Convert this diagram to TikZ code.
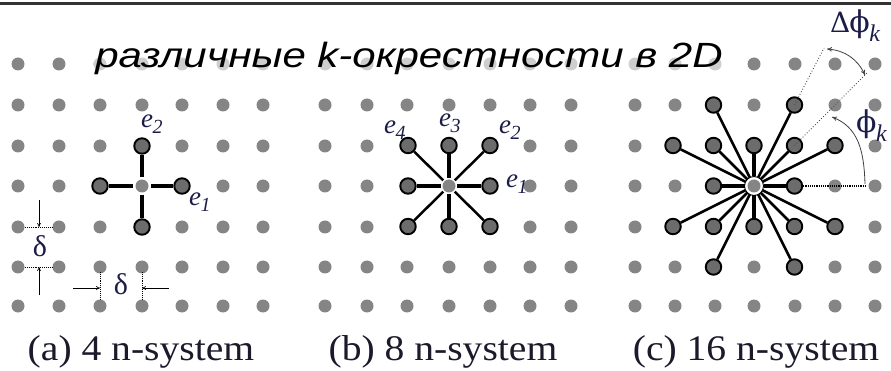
\documentclass[tikz,border=0pt]{standalone}
\usepackage{fontspec}
\setmainfont{Liberation Serif}
\newfontfamily\titlefont[FakeStretch=1.2]{Liberation Sans}
\newfontfamily\capfont[FakeStretch=1.1]{Liberation Serif}
\newfontfamily\phifont{DejaVu Serif}
\usetikzlibrary{arrows.meta}
\definecolor{dotgray}{HTML}{858585}
\definecolor{nbgray}{HTML}{6C6C6C}
\definecolor{labblue}{HTML}{1C1C48}
\definecolor{capcol}{HTML}{1A1A2A}
\newcommand{\elab}[1]{\textit{e}\kern-0.5pt\raisebox{-6pt}{\fontsize{20}{20}\selectfont\textit{#1}}}
\newcommand{\ksub}{\kern-0.5pt\raisebox{-9pt}{\fontsize{24}{24}\selectfont\textit{k}}}
\tikzset{
  griddot/.style={fill=dotgray},
  nb/.style={circle, draw=black, line width=1.9pt, fill=nbgray, minimum size=15.5pt, inner sep=0pt},
  ctra/.style={circle, fill=dotgray, minimum size=10pt, inner sep=0pt, outer sep=4pt},
  ctrb/.style={circle, fill=dotgray, minimum size=12pt, inner sep=0pt, outer sep=2pt},
  ctrc/.style={circle, fill=dotgray, minimum size=12pt, inner sep=0pt, outer sep=3.5pt},
  axisline/.style={line width=3.2pt},
  diagline/.style={line width=2.5pt},
  elabel/.style={text=labblue, font=\fontsize{27}{27}\selectfont, inner sep=0pt, anchor=base west},
  glabel/.style={text=labblue, font=\fontsize{30}{30}\selectfont, inner sep=0pt},
  captext/.style={text=capcol, font=\capfont\fontsize{36}{36}\selectfont, inner sep=0pt, anchor=base},
  dimline/.style={densely dotted, line width=0.9pt},
  dimarrow/.style={line width=0.6pt, -{To[length=4pt,width=4pt]}},
  anglearrow/.style={line width=0.8pt, color=black!75},
}
\begin{document}
\begin{tikzpicture}[x=1pt,y=-1pt]
\useasboundingbox (0,0) rectangle (891,371);
\draw[line width=2.5pt, color=black!80] (0,3.5) -- (891,3.5);
% grid dots
\foreach \x in {18,59,100,142,182,223,263,325,367,407,449,490,530,571,635,675,715,754,795,835,875}
  \foreach \y in {64,105,146,186,227,267,306}
    \fill[griddot] (\x,\y) circle (6.5pt);
% title
\node[fill=white, fill opacity=0.6, text opacity=1, inner sep=1pt, anchor=base] (title) at (409,68)
  {\titlefont\itshape\fontsize{35}{35}\selectfont различные k-окрестности в 2D};
% ---------- (a) 4 n-system
\node[ctra] (ca) at (142,186) {};
\node[nb] (a1) at (182,186) {};
\node[nb] (a2) at (142,146) {};
\node[nb] (a3) at (100,186) {};
\node[nb] (a4) at (142,227) {};
\foreach \n in {a1,a2,a3,a4} \draw[axisline] (ca) -- (\n);
\node[elabel] (ae2) at (141,128) {\elab{2}};
\node[elabel] (ae1) at (189,206) {\elab{1}};
% delta dimension (vertical)
\coordinate (dv1l) at (25,227); \coordinate (dv1r) at (53,227);
\coordinate (dv2l) at (25,267); \coordinate (dv2r) at (53,267);
\draw[dimline] (dv1l) -- (dv1r);
\draw[dimline] (dv2l) -- (dv2r);
\coordinate (dvt) at (39,200); \coordinate (dvtt) at (39,227);
\coordinate (dvb) at (39,295); \coordinate (dvbt) at (39,267);
\draw[dimarrow] (dvt) -- (dvtt);
\draw[dimarrow] (dvb) -- (dvbt);
\node[glabel] (dv) at (40,246) {δ};
% delta dimension (horizontal)
\coordinate (dh1t) at (100,272); \coordinate (dh1b) at (100,299);
\coordinate (dh2t) at (142,272); \coordinate (dh2b) at (142,299);
\draw[dimline] (dh1t) -- (dh1b);
\draw[dimline] (dh2t) -- (dh2b);
\coordinate (dhl) at (73,288); \coordinate (dhlt) at (100,288);
\coordinate (dhr) at (169,288); \coordinate (dhrt) at (142,288);
\draw[dimarrow] (dhl) -- (dhlt);
\draw[dimarrow] (dhr) -- (dhrt);
\node[glabel] (dh) at (121,284) {δ};
% ---------- (b) 8 n-system
\node[ctrb] (cb) at (449,186) {};
\foreach \i/\dx/\dy in {1/1/0,2/1/-1,3/0/-1,4/-1/-1,5/-1/0,6/-1/1,7/0/1,8/1/1}
  \node[nb] (b\i) at ({449+41*\dx},{186+40.5*\dy}) {};
\foreach \n in {b1,b3,b5,b7} \draw[axisline] (cb) -- (\n);
\foreach \n in {b2,b4,b6,b8} \draw[diagline] (cb) -- (\n);
\node[elabel] (be4) at (384,134) {\elab{4}};
\node[elabel] (be3) at (439,127) {\elab{3}};
\node[elabel] (be2) at (499,134) {\elab{2}};
\node[elabel] (be1) at (506,188) {\elab{1}};
% ---------- (c) 16 n-system
\node[ctrc] (cc) at (754,186) {};
\foreach \i/\dx/\dy in {1/1/0,2/0/-1,3/-1/0,4/0/1}
  \node[nb] (c\i) at ({754+40.5*\dx},{186+40.5*\dy}) {};
\foreach \i/\dx/\dy in {5/1/-1,6/-1/-1,7/-1/1,8/1/1,9/2/-1,10/1/-2,11/-1/-2,12/-2/-1,13/-2/1,14/-1/2,15/1/2,16/2/1}
  \node[nb] (c\i) at ({754+40.5*\dx},{186+40.5*\dy}) {};
\draw[line width=3.4pt] (cc) -- (c1);
\draw[line width=3.4pt] (cc) -- (c3);
\draw[line width=4.2pt] (cc) -- (c2);
\draw[line width=4.2pt] (cc) -- (c4);
\foreach \n in {c5,c6,c7,c8,c9,c10,c11,c12,c13,c14,c15,c16} \draw[diagline] (cc) -- (\n);
\draw[line width=0.9pt] (cc.center) circle (9.5pt);
% angle construction
\coordinate (hz) at (866,186);
\coordinate (d45) at (867,73);
\coordinate (d63) at (824,48);
\draw[densely dotted, line width=1.2pt] (c1) -- (hz);
\draw[dotted, line width=0.9pt, color=black!70] (c5.center) -- (d45);
\draw[dotted, line width=0.9pt, color=black!70] (c10.center) -- (d63);
\coordinate (dpa) at (827,49);
\coordinate (dpb) at (865,75);
\draw[anglearrow, {To[length=5pt,width=4.5pt]}-{To[length=5pt,width=4.5pt]}] (dpa) to[bend left=30] (dpb);
\coordinate (pha) at (865,184);
\coordinate (phb) at (832,117);
\draw[anglearrow, -{To[length=5pt,width=4.5pt]}] (pha) .. controls (864,150) and (858,127) .. (phb);
\node[glabel, anchor=base west] (dphi) at (830,33)
  {{\phifont\fontsize{28}{28}\selectfont\char"0394}\kern-1pt{\phifont\fontsize{30}{30}\selectfont\char"03D5}\ksub};
\node[glabel, anchor=base west] (phik) at (856,133)
  {{\phifont\fontsize{30}{30}\selectfont\char"03D5}\ksub};
% captions
\node[captext] (capa) at (141,360) {(a) 4 n-system};
\node[captext] (capb) at (443,360) {(b) 8 n-system};
\node[captext] (capc) at (756,360) {(c) 16 n-system};
\end{tikzpicture}
\end{document}
